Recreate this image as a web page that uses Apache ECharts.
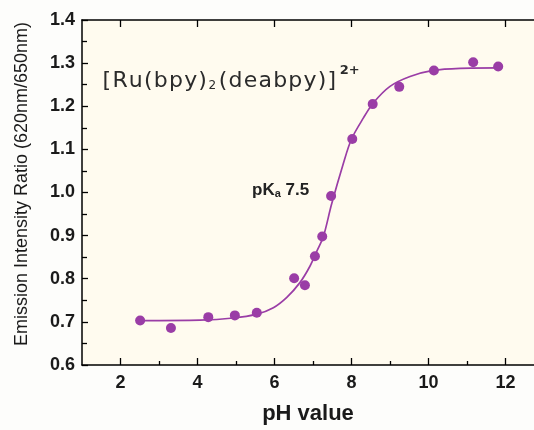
<!DOCTYPE html>
<html>
<head>
<meta charset="utf-8">
<script src="https://cdn.jsdelivr.net/npm/echarts@6/dist/echarts.min.js"></script>
<style>
html,body{margin:0;padding:0;background:#fdfdfb;}
#c{width:534px;height:430px;}
</style>
</head>
<body>
<div id="c"></div>
<script>
// measured points
const phPoints = [2.51, 3.31, 4.28, 4.97, 5.54, 6.51, 6.79, 7.05, 7.24, 7.47, 8.02, 8.55, 9.24, 10.14, 11.16, 11.81];
const ratioPoints = [0.703, 0.686, 0.711, 0.715, 0.721, 0.801, 0.785, 0.852, 0.898, 0.992, 1.124, 1.205, 1.245, 1.283, 1.302, 1.292];
// fitted curve
const phCurve = [2.5, 4.06, 4.93, 5.54, 5.97, 6.32, 6.66, 6.92, 7.10, 7.27, 7.48, 7.79, 8.0, 8.31, 8.57, 9.0, 9.52, 10.12, 10.82, 11.83];
const ratioCurve = [0.703, 0.704, 0.709, 0.718, 0.733, 0.757, 0.791, 0.829, 0.864, 0.898, 0.972, 1.068, 1.124, 1.173, 1.208, 1.246, 1.269, 1.283, 1.288, 1.289];
const xMajor = [2, 4, 6, 8, 10, 12];
const xMinor = [3, 5, 7, 9, 11];

const chart = echarts.init(document.getElementById('c'), null, {renderer: 'canvas'});
const purple = '#9a3da6';
const lineCol = '#000';
const font = 'Liberation Sans, Arial, sans-serif';
const txt = '#1a1a1a';

function spaced(str, style) {
  return str.split('').map(ch => '{' + style + '|' + ch + '}').join('');
}
const formula = spaced('[Ru(bpy)', 'a') + '{s|2}' + spaced('(deabpy)]', 'a') + '{p|2+}';

const xBase = {type: 'value', min: 1, max: 12.74, splitLine: {show: false}};
chart.setOption({
  backgroundColor: '#fdfdfb',
  animation: false,
  grid: {left: 82, top: 20, right: 0, bottom: 60, show: true, backgroundColor: '#fffbef', borderWidth: 0},
  xAxis: [
    Object.assign({}, xBase, {
      position: 'bottom',
      name: 'pH value', nameLocation: 'middle', nameGap: 38,
      nameTextStyle: {fontFamily: font, fontSize: 22, fontWeight: 'bold', color: txt},
      axisLine: {lineStyle: {color: lineCol, width: 1.5}},
      axisTick: {inside: true, length: 7, customValues: xMajor, lineStyle: {color: lineCol, width: 1.3}},
      axisLabel: {customValues: xMajor, fontFamily: font, fontSize: 18, fontWeight: 'bold', color: txt, margin: 9}
    }),
    Object.assign({}, xBase, {
      position: 'bottom',
      axisLine: {show: false},
      axisTick: {inside: true, length: 4, customValues: xMinor, lineStyle: {color: lineCol, width: 1.3}},
      axisLabel: {show: false}
    }),
    Object.assign({}, xBase, {
      position: 'top',
      axisLine: {lineStyle: {color: lineCol, width: 1.5}},
      axisTick: {inside: true, length: 7, customValues: xMajor, lineStyle: {color: lineCol, width: 1.3}},
      axisLabel: {show: false}
    })
  ],
  yAxis: [{
    type: 'value', min: 0.6, max: 1.4, interval: 0.1,
    axisLine: {show: true, lineStyle: {color: lineCol, width: 1.5}},
    axisTick: {show: true, inside: true, length: 6, lineStyle: {color: lineCol, width: 1.3}},
    minorTick: {show: true, splitNumber: 2, length: 5, lineStyle: {color: lineCol, width: 1.3}},
    splitLine: {show: false},
    axisLabel: {fontFamily: font, fontSize: 18, fontWeight: 'bold', color: txt, margin: 7,
      formatter: v => v.toFixed(1)}
  }],
  series: [
    {
      type: 'line', xAxisIndex: 0, smooth: 0.3, symbol: 'none',
      lineStyle: {color: purple, width: 1.7},
      data: phCurve.map((x, i) => [x, ratioCurve[i]]), z: 2
    },
    {
      type: 'scatter', xAxisIndex: 0, symbol: 'circle', symbolSize: 10,
      itemStyle: {color: purple, opacity: 1},
      data: phPoints.map((x, i) => [x, ratioPoints[i]]), z: 3
    }
  ],
  graphic: [
    {
      type: 'text', x: 22, y: 184, rotation: Math.PI / 2,
      style: {
        text: 'Emission Intensity Ratio (620nm/650nm)',
        fontFamily: font, fontSize: 18, fill: txt,
        textAlign: 'center', textVerticalAlign: 'middle'
      }
    },
    {
      type: 'text', left: 102, top: 64,
      style: {
        text: formula,
        rich: {
          a: {fontFamily: 'DejaVu Sans, sans-serif', fontSize: 22, fill: '#2b2b2b', verticalAlign: 'bottom', lineHeight: 28, padding: [0, 0.6, 0, 0.6]},
          s: {fontFamily: 'DejaVu Sans, sans-serif', fontSize: 12, fill: '#2b2b2b', verticalAlign: 'bottom', lineHeight: 14, padding: [0, 2, 0, 1]},
          p: {fontFamily: 'DejaVu Sans, sans-serif', fontSize: 13, fontWeight: 'bold', fill: '#2b2b2b', verticalAlign: 'top', lineHeight: 14, padding: [0, 0, 0, 3]}
        }
      }
    },
    {
      type: 'text', left: 252, top: 182,
      style: {
        text: '{a|pK}{s|a}{a| 7.5}',
        rich: {
          a: {fontFamily: font, fontSize: 17, fontWeight: 'bold', fill: '#222', verticalAlign: 'bottom', lineHeight: 22},
          s: {fontFamily: font, fontSize: 11, fontWeight: 'bold', fill: '#222', verticalAlign: 'bottom', lineHeight: 12}
        }
      }
    }
  ]
});
</script>
</body>
</html>
